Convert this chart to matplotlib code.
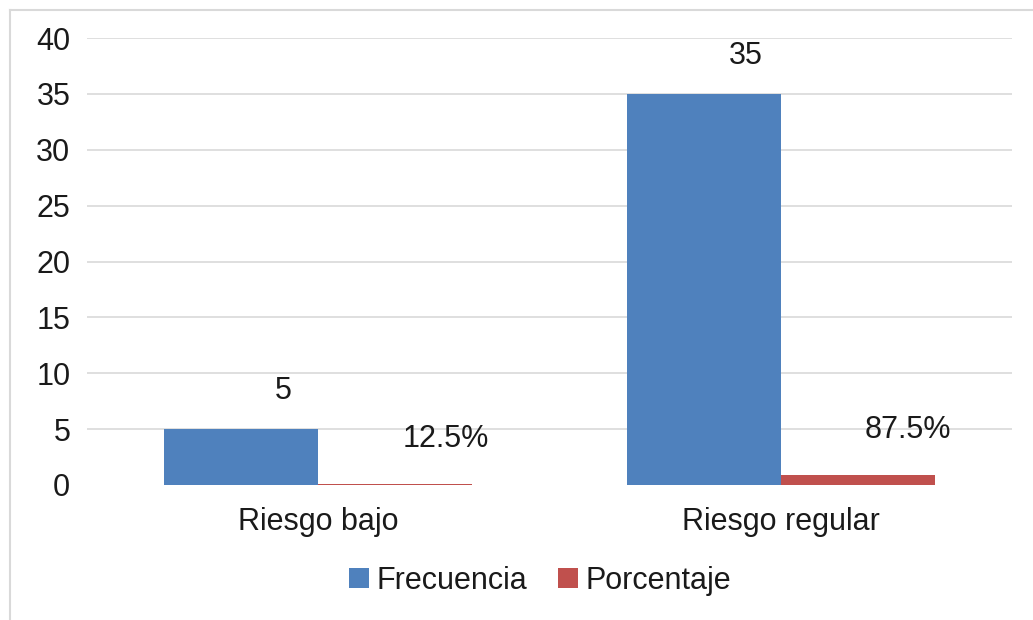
import matplotlib
matplotlib.use("Agg")
import matplotlib.pyplot as plt
from matplotlib.lines import Line2D
import numpy as np

categories = ["Riesgo bajo", "Riesgo regular"]
frecuencia = [5, 35]
porcentaje = [0.125, 0.875]
porcentaje_labels = ["12.5%", "87.5%"]
yticks = [0, 5, 10, 15, 20, 25, 30, 35, 40]

plt.rcParams['font.family'] = ['Liberation Sans', 'DejaVu Sans']
FS = 22
TXT = '#1a1a1a'

fig = plt.figure(figsize=(10.33, 6.2), dpi=100)
ax = fig.add_axes([87/1033, 1-485/620, (1012-87)/1033, (485-38)/620])

x = np.arange(len(categories))
w = 1/3
b1 = ax.bar(x - w/2, frecuencia, w, color='#4F81BD', label='Frecuencia', zorder=3)
b2 = ax.bar(x + w/2, porcentaje, w, color='#C0504D', label='Porcentaje', zorder=3)

for rect, v in zip(b1, frecuencia):
    ax.annotate(str(v), (rect.get_x() + rect.get_width()/2, v),
                xytext=(42, 38), textcoords='offset pixels',
                ha='center', va='center', fontsize=FS, color=TXT)
for rect, v, lab in zip(b2, porcentaje, porcentaje_labels):
    ax.annotate(lab, (rect.get_x() + rect.get_width()/2, v),
                xytext=(50, 45), textcoords='offset pixels',
                ha='center', va='center', fontsize=FS, color=TXT)

ax.set_xlim(-0.5, 1.5)
ax.set_ylim(0, 40)
ax.set_yticks(yticks)
ax.set_xticks(x)
ax.set_xticklabels(categories)
ax.tick_params(axis='both', length=0, labelsize=FS, colors=TXT)
ax.tick_params(axis='y', pad=12)
ax.tick_params(axis='x', pad=16)
for s in ax.spines.values():
    s.set_visible(False)
ax.yaxis.grid(True, color='#d9d9d9', linewidth=1.2, zorder=0)
ax.set_axisbelow(True)
ax.get_ygridlines()[0].set_visible(False)

leg = fig.legend(handles=[b1, b2], labels=['Frecuencia', 'Porcentaje'],
                 loc='center', bbox_to_anchor=(540/1033, 1-581/620), ncol=2,
                 frameon=False, fontsize=FS, handlelength=0.65, handleheight=0.65,
                 handletextpad=0.25, columnspacing=1.0)
for t in leg.get_texts():
    t.set_color(TXT)

# outer chart border (only top and left visible)
fig.add_artist(Line2D([10/1033, 1], [1-10/620, 1-10/620], transform=fig.transFigure,
                      color='#d9d9d9', linewidth=1.5))
fig.add_artist(Line2D([10/1033, 10/1033], [0, 1-10/620], transform=fig.transFigure,
                      color='#d9d9d9', linewidth=1.5))

fig.savefig('out.png', dpi=100, facecolor='white')
